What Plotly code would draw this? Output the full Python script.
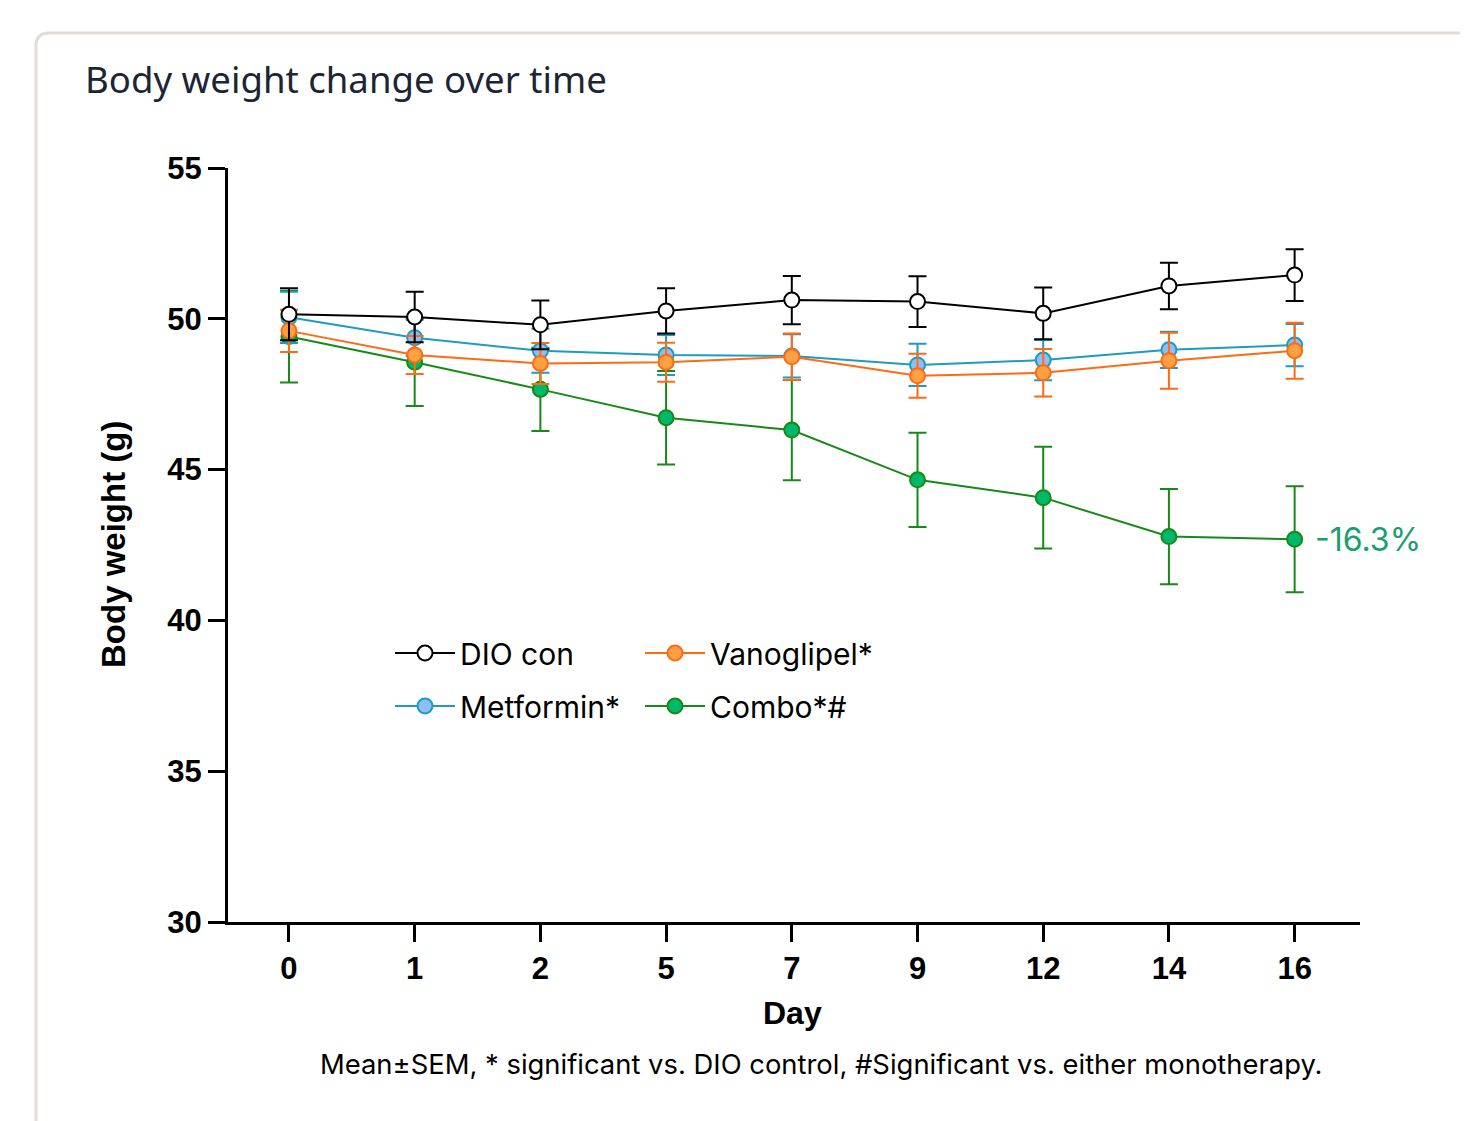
import plotly.graph_objects as go

days = ["0", "1", "2", "5", "7", "9", "12", "14", "16"]

dio_mean = [50.15, 50.06, 49.80, 50.26, 50.62, 50.57, 50.18, 51.09, 51.45]
dio_sem = [0.86, 0.84, 0.81, 0.75, 0.80, 0.84, 0.86, 0.77, 0.86]

met_mean = [50.05, 49.37, 48.94, 48.80, 48.77, 48.47, 48.63, 48.97, 49.13]
met_sem = [0.85, 0.60, 0.73, 0.66, 0.72, 0.70, 0.67, 0.60, 0.70]

van_mean = [49.60, 48.80, 48.52, 48.56, 48.74, 48.11, 48.21, 48.61, 48.94]
van_sem = [0.70, 0.63, 0.68, 0.65, 0.77, 0.73, 0.79, 0.93, 0.93]

combo_mean = [49.41, 48.56, 47.66, 46.72, 46.31, 44.66, 44.07, 42.78, 42.69]
combo_sem = [1.52, 1.45, 1.38, 1.55, 1.66, 1.56, 1.69, 1.58, 1.76]

combo_label = "-16.3%"
note = "Mean±SEM, * significant vs. DIO control, #Significant vs. either monotherapy."

OFF = 8  # page body margin
W, H = 1468 - OFF, 1121 - OFF
# plot area in window (reference) pixel coordinates
L, R, T, B = 228, 1360, 168, 922


def px(xp):
    return (xp - L) / (R - L)


def py(yp):
    return (B - yp) / (B - T)


def trace(name, y, sem, line_c, fill_c, legend, rank):
    return go.Scatter(
        x=days, y=y, name=name, mode="lines+markers",
        line=dict(color=line_c, width=2),
        marker=dict(size=15, color=fill_c, line=dict(color=line_c, width=2)),
        error_y=dict(type="data", array=sem, visible=True, color=line_c,
                     thickness=2, width=9),
        legend=legend, legendrank=rank, legendgroup=name,
    )


fig = go.Figure()
fig.add_trace(trace("Combo*#", combo_mean, combo_sem, "#168a16", "#00b86b", "legend2", 2))
fig.add_trace(trace("Metformin*", met_mean, met_sem, "#1e9bc0", "#8fbef5", "legend", 2))
fig.add_trace(trace("Vanoglipel*", van_mean, van_sem, "#ff6a13", "#ffa142", "legend2", 1))
fig.add_trace(trace("DIO con", dio_mean, dio_sem, "#000000", "#ffffff", "legend", 1))

tickfont = dict(family="Liberation Sans, Arial", size=31, color="#000000", weight="bold")
legfont = dict(family="Inter", size=30, color="#000000")

fig.update_layout(
    width=W, height=H,
    margin=dict(l=L - OFF, r=W - (R - OFF), t=T - OFF, b=H - (B - OFF), autoexpand=False),
    paper_bgcolor="#ffffff", plot_bgcolor="#ffffff",
    title=dict(text="Body weight change over time", xref="container", yref="container",
               x=(85 - OFF) / W, y=1 - (80 - OFF) / H, xanchor="left", yanchor="middle",
               font=dict(family="Noto Sans", size=36.6, color="#1b2535")),
    xaxis=dict(type="category", range=[-0.485, 8.52], showgrid=False, zeroline=False,
               showline=True, linecolor="#000000", linewidth=3,
               ticks="outside", ticklen=17, tickwidth=3, tickcolor="#000000",
               tickfont=tickfont),
    yaxis=dict(range=[30, 55], tickvals=[30, 35, 40, 45, 50, 55], showgrid=False, zeroline=False,
               showline=True, linecolor="#000000", linewidth=3,
               ticks="outside", ticklen=17, tickwidth=3, tickcolor="#000000",
               tickfont=tickfont),
    legend=dict(x=px(390), y=py(627), xanchor="left", yanchor="top", bgcolor="rgba(0,0,0,0)",
                font=legfont, tracegroupgap=11, orientation="v",
                itemsizing="trace", itemwidth=60),
    legend2=dict(x=px(640), y=py(627), xanchor="left", yanchor="top", bgcolor="rgba(0,0,0,0)",
                 font=legfont, tracegroupgap=11, orientation="v",
                 itemsizing="trace", itemwidth=60),
    showlegend=True,
)

fig.add_annotation(x=len(days) - 1, y=combo_mean[-1], xref="x", yref="y", text=combo_label,
                   showarrow=False, xanchor="left", yanchor="middle", xshift=18,
                   font=dict(family="Inter", size=32, color="#17a06e"))
fig.add_annotation(x=px(113), y=0.5, xref="paper", yref="paper", text="<b>Body weight (g)</b>",
                   textangle=-90, showarrow=False, xanchor="center", yanchor="middle",
                   font=dict(family="Liberation Sans, Arial", size=33, color="#000000"))
fig.add_annotation(x=px(792), y=py(1013), xref="paper", yref="paper", text="<b>Day</b>",
                   showarrow=False, xanchor="center", yanchor="middle",
                   font=dict(family="Liberation Sans, Arial", size=32, color="#000000"))
fig.add_annotation(x=px(821), y=py(1064), xref="paper", yref="paper", text=note,
                   showarrow=False, xanchor="center", yanchor="middle",
                   font=dict(family="Inter", size=27.4, color="#000000"))

# card border (decoration)
path = (f"M {px(36)},{py(1140)} L {px(36)},{py(46)} Q {px(36)},{py(33)} {px(49)},{py(33)} "
        f"L {px(1500)},{py(33)}")
fig.add_shape(type="path", path=path, xref="paper", yref="paper",
              line=dict(color="#e2ddd3", width=3), layer="below")

fig.write_html("out.html")
